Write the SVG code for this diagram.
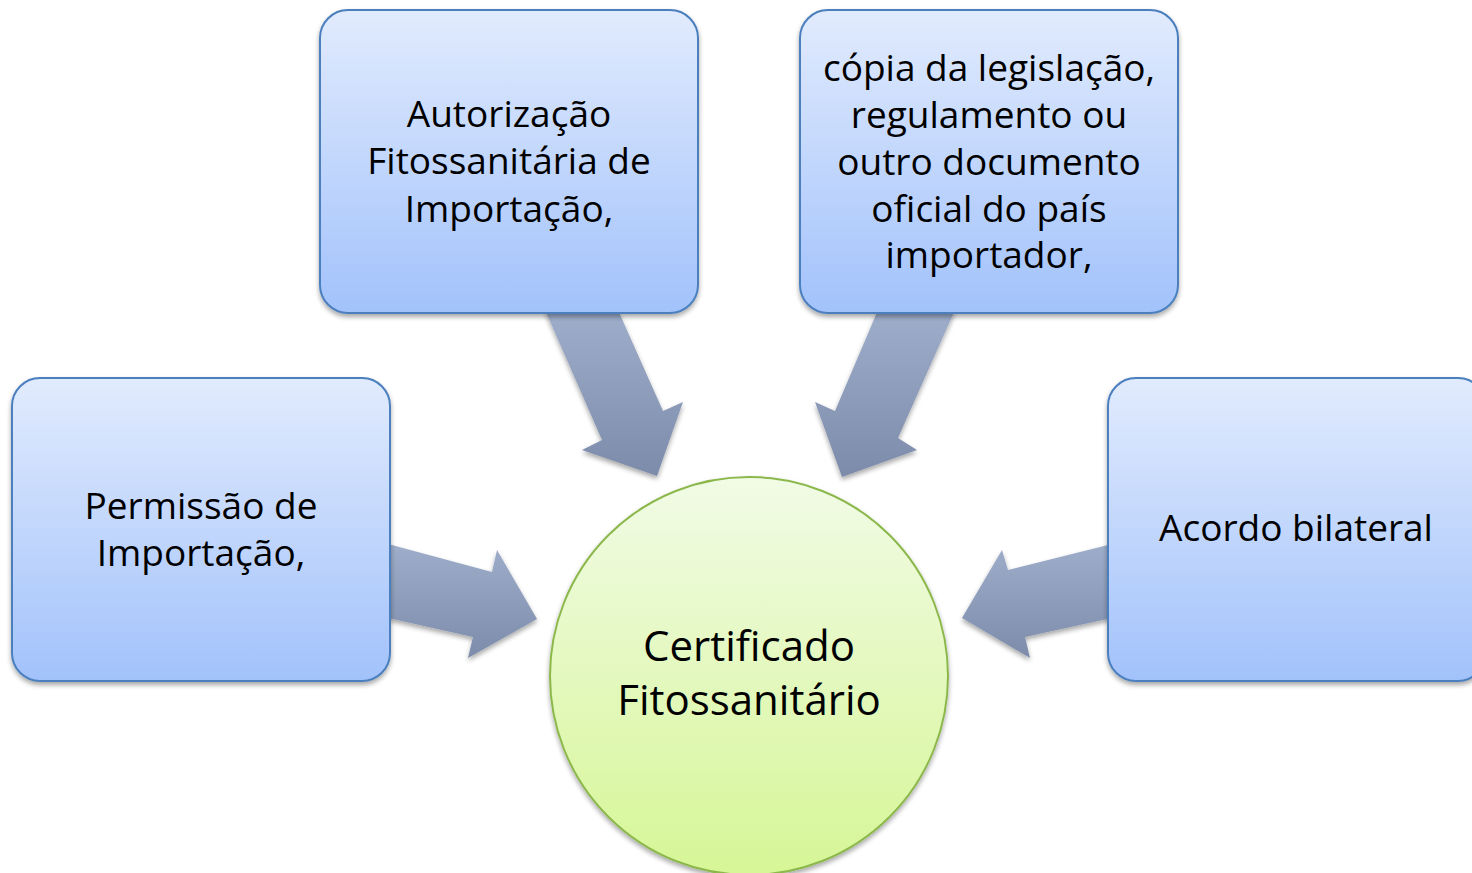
<svg xmlns="http://www.w3.org/2000/svg" width="1472" height="873" viewBox="0 0 1472 873">
<defs>
<linearGradient id="gBox" x1="0" y1="0" x2="0" y2="1">
<stop offset="0" stop-color="#e1ebfd"/>
<stop offset="1" stop-color="#a2c2fb"/>
</linearGradient>
<linearGradient id="gArrowV" gradientUnits="userSpaceOnUse" x1="0" y1="313" x2="0" y2="477">
<stop offset="0" stop-color="#9eadca"/>
<stop offset="1" stop-color="#7b8ba9"/>
</linearGradient>
<linearGradient id="gArrowH" gradientUnits="userSpaceOnUse" x1="0" y1="545" x2="0" y2="660">
<stop offset="0" stop-color="#9eadca"/>
<stop offset="1" stop-color="#7b8ba9"/>
</linearGradient>
<linearGradient id="gCircle" x1="0" y1="0" x2="0" y2="1">
<stop offset="0" stop-color="#f1fbe6"/>
<stop offset="1" stop-color="#d6f696"/>
</linearGradient>
<filter id="sh" x="-10%" y="-10%" width="120%" height="125%">
<feGaussianBlur in="SourceAlpha" stdDeviation="2.5"/>
<feOffset dx="0" dy="3" result="b"/>
<feComponentTransfer><feFuncA type="linear" slope="0.35"/></feComponentTransfer>
<feMerge><feMergeNode/><feMergeNode in="SourceGraphic"/></feMerge>
</filter>
</defs>
<style>
.box{fill:url(#gBox);stroke:#4b7fbe;stroke-width:2}
.arw{filter:url(#sh)}
.t{font-family:"Open Sans","Noto Sans","Liberation Sans",sans-serif;font-size:37px;fill:#000;text-anchor:middle}
.tc{font-family:"Open Sans","Noto Sans","Liberation Sans",sans-serif;font-size:42px;fill:#000;text-anchor:middle}
</style>
<rect width="1472" height="873" fill="#ffffff"/>
<g id="connectors">
<polygon class="arw" fill="url(#gArrowV)" points="545,310 618,310 663,411 683,402 657,476 582,450 602,440"/>
<polygon class="arw" fill="url(#gArrowV)" points="878,310 955,310 898,438 917,450 842,477 815,402 835,411"/>
<polygon class="arw" fill="url(#gArrowH)" points="388,544 492,572 497,550 537,619 468,658 473,637 388,618"/>
<polygon class="arw" fill="url(#gArrowH)" points="1112,544 1008,570 1002,550 962,618 1030,658 1025,637 1112,618"/>
</g>
<g id="node-permissao">
<rect class="box" filter="url(#sh)" x="12" y="378" width="378" height="303" rx="28"/>
<text class="t" x="201" y="519">Permissão de</text>
<text class="t" x="201" y="566">Importação,</text>
</g>
<g id="node-autorizacao">
<rect class="box" filter="url(#sh)" x="320" y="10" width="378" height="303" rx="28"/>
<text class="t" x="509" y="127">Autorização</text>
<text class="t" x="509" y="174">Fitossanitária de</text>
<text class="t" x="509" y="222">Importação,</text>
</g>
<g id="node-copia">
<rect class="box" filter="url(#sh)" x="800" y="10" width="378" height="303" rx="28"/>
<text class="t" x="989" y="81">cópia da legislação,</text>
<text class="t" x="989" y="128">regulamento ou</text>
<text class="t" x="989" y="175">outro documento</text>
<text class="t" x="989" y="222">oficial do país</text>
<text class="t" x="989" y="268">importador,</text>
</g>
<g id="node-acordo">
<rect class="box" filter="url(#sh)" x="1108" y="378" width="378" height="303" rx="28"/>
<text class="t" x="1296" y="541">Acordo bilateral</text>
</g>
<g id="node-certificado">
<circle cx="749" cy="676" r="199" fill="url(#gCircle)" stroke="#8cb84c" stroke-width="2" filter="url(#sh)"/>
<text class="tc" x="749" y="661">Certificado</text>
<text class="tc" x="749" y="715">Fitossanitário</text>
</g>
</svg>
